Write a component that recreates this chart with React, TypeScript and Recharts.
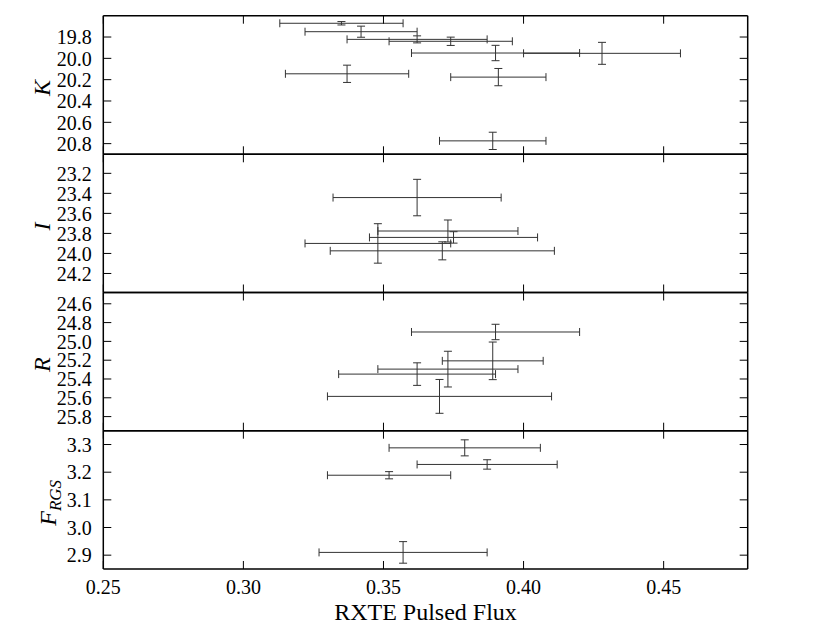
import React from 'react';
import { ScatterChart, Scatter, XAxis, YAxis, ErrorBar } from 'recharts';

// ---- data ----
const X_TICKS = [0.25, 0.3, 0.35, 0.4, 0.45];
const X_DOMAIN = [0.25, 0.48];

const K_DATA = [
  { x: 0.335, ex: 0.022, y: 19.671, ey: 0.016 },
  { x: 0.342, ex: 0.020, y: 19.75, ey: 0.052 },
  { x: 0.362, ex: 0.025, y: 19.822, ey: 0.033 },
  { x: 0.374, ex: 0.022, y: 19.84, ey: 0.039 },
  { x: 0.390, ex: 0.030, y: 19.95, ey: 0.072 },
  { x: 0.428, ex: 0.028, y: 19.953, ey: 0.103 },
  { x: 0.337, ex: 0.022, y: 20.145, ey: 0.081 },
  { x: 0.391, ex: 0.017, y: 20.176, ey: 0.081 },
  { x: 0.389, ex: 0.019, y: 20.774, ey: 0.081 },
];
const K_TICKS = [19.8, 20.0, 20.2, 20.4, 20.6, 20.8];
const K_DOMAIN = [19.6, 20.9];

const I_DATA = [
  { x: 0.362, ex: 0.030, y: 23.442, ey: 0.182 },
  { x: 0.373, ex: 0.025, y: 23.776, ey: 0.11 },
  { x: 0.375, ex: 0.030, y: 23.84, ey: 0.057 },
  { x: 0.348, ex: 0.026, y: 23.90, ey: 0.197 },
  { x: 0.371, ex: 0.040, y: 23.974, ey: 0.09 },
];
const I_TICKS = [23.2, 23.4, 23.6, 23.8, 24.0, 24.2];
const I_DOMAIN = [23.01, 24.39];

const R_DATA = [
  { x: 0.390, ex: 0.030, y: 24.90, ey: 0.082 },
  { x: 0.389, ex: 0.018, y: 25.207, ey: 0.20 },
  { x: 0.373, ex: 0.025, y: 25.295, ey: 0.19 },
  { x: 0.362, ex: 0.028, y: 25.348, ey: 0.12 },
  { x: 0.370, ex: 0.040, y: 25.585, ey: 0.18 },
];
const R_TICKS = [24.6, 24.8, 25.0, 25.2, 25.4, 25.6, 25.8];
const R_DOMAIN = [24.48, 25.95];

const F_DATA = [
  { x: 0.379, ex: 0.027, y: 3.288, ey: 0.029 },
  { x: 0.387, ex: 0.025, y: 3.228, ey: 0.017 },
  { x: 0.352, ex: 0.022, y: 3.189, ey: 0.013 },
  { x: 0.357, ex: 0.030, y: 2.910, ey: 0.039 },
];
const F_TICKS = [2.9, 3.0, 3.1, 3.2, 3.3];
const F_DOMAIN = [2.85, 3.35];

const X_TITLE = 'RXTE Pulsed Flux';

// ---- layout ----
const W = 831;
const H = 626;
const PLOT_LEFT = 103.3;
const PLOT_RIGHT = 747.7;
const PANEL_EDGES = [15.7, 154.3, 292.5, 430.7, 569];
const TICK_LEN = 8;
const Y_LABEL_GAP = 11.6;
const X_LABEL_GAP = 11;
const THIN = 0.001;

const FONT = "'Liberation Serif', 'Times New Roman', serif";
const FRAME = { stroke: '#000', strokeWidth: 1.5 };
const BAR_COLOR = '#333';

const makeYLabel = (main: string, sub?: string, dx = 50) => (props: any) => {
  const vb = props.viewBox || { x: 0, y: 0, width: 0, height: 0 };
  const cx = vb.x + dx;
  const cy = vb.y + vb.height / 2 + 3;
  return (
    <text
      x={cx}
      y={cy}
      transform={`rotate(-90, ${cx}, ${cy})`}
      textAnchor="middle"
      style={{ fontFamily: FONT, fontStyle: 'italic', fontSize: 24 }}
      fill="#000"
    >
      <tspan>{main}</tspan>
      {sub ? (
        <tspan style={{ fontSize: 17 }} dy={5}>
          {sub}
        </tspan>
      ) : null}
    </text>
  );
};

// tick renderers: ticks drawn inward from the frame at the library's tick positions
const leftTick = (digits: number) => (props: any) => {
  const { x, y, payload } = props;
  const edge = x + Y_LABEL_GAP;
  return (
    <g>
      <line x1={edge} x2={edge + TICK_LEN} y1={y} y2={y} stroke="#000" strokeWidth={1} />
      <text x={x} y={y} dy="0.36em" textAnchor="end" style={{ fontFamily: FONT, fontSize: 20 }} fill="#000">
        {Number(payload.value).toFixed(digits)}
      </text>
    </g>
  );
};

const rightTick = (props: any) => {
  const { x, y } = props;
  return <line x1={x} x2={x - TICK_LEN} y1={y} y2={y} stroke="#000" strokeWidth={1} />;
};

const topTick = (props: any) => {
  const { x, y } = props;
  return <line x1={x} x2={x} y1={y} y2={y + TICK_LEN} stroke="#000" strokeWidth={1} />;
};

const bottomTick = (showLabel: boolean) => (props: any) => {
  const { x, y, payload } = props;
  const edge = y - X_LABEL_GAP;
  return (
    <g>
      <line x1={x} x2={x} y1={edge} y2={edge - TICK_LEN} stroke="#000" strokeWidth={1} />
      {showLabel ? (
        <text x={x} y={y} dy="0.71em" textAnchor="middle" style={{ fontFamily: FONT, fontSize: 20 }} fill="#000">
          {Number(payload.value).toFixed(2)}
        </text>
      ) : null}
    </g>
  );
};

const xTitle = (props: any) => {
  const vb = props.viewBox || { x: 0, y: 0, width: 0, height: 0 };
  return (
    <text
      x={vb.x + vb.width / 2}
      y={vb.y + 51}
      textAnchor="middle"
      style={{ fontFamily: FONT, fontSize: 24 }}
      fill="#000"
    >
      {X_TITLE}
    </text>
  );
};

type PanelProps = {
  data: { x: number; ex: number; y: number; ey: number }[];
  domain: number[];
  ticks: number[];
  reversed: boolean;
  index: number;
  showX: boolean;
  label: any;
  digits: number;
};

function Panel({ data, domain, ticks, reversed, index, showX, label, digits }: PanelProps) {
  const top = PANEL_EDGES[index];
  const bottom = PANEL_EDGES[index + 1];
  return (
    <div style={{ position: 'absolute', left: 0, top: 0, width: W, height: H }}>
      <ScatterChart
        width={W}
        height={H}
        margin={{ top, bottom: H - bottom, left: 0, right: W - PLOT_RIGHT }}
      >
        <XAxis
          xAxisId="b"
          type="number"
          dataKey="x"
          orientation="bottom"
          domain={X_DOMAIN}
          ticks={X_TICKS}
          allowDataOverflow
          height={THIN}
          tickSize={0}
          tickMargin={X_LABEL_GAP}
          interval={0}
          axisLine={FRAME}
          tickLine={false}
          tick={bottomTick(showX)}
          label={showX ? { content: xTitle } : undefined}
        />
        <XAxis
          xAxisId="t"
          type="number"
          dataKey="x"
          orientation="top"
          domain={X_DOMAIN}
          ticks={X_TICKS}
          allowDataOverflow
          height={THIN}
          tickSize={0}
          tickMargin={0}
          interval={0}
          axisLine={FRAME}
          tickLine={false}
          tick={topTick}
        />
        <YAxis
          yAxisId="l"
          type="number"
          dataKey="y"
          orientation="left"
          domain={domain}
          ticks={ticks}
          reversed={reversed}
          allowDataOverflow
          width={PLOT_LEFT}
          tickSize={0}
          tickMargin={Y_LABEL_GAP}
          interval={0}
          axisLine={FRAME}
          tickLine={false}
          tick={leftTick(digits)}
          label={{ content: label }}
        />
        <YAxis
          yAxisId="r"
          type="number"
          dataKey="y"
          orientation="right"
          domain={domain}
          ticks={ticks}
          reversed={reversed}
          allowDataOverflow
          width={THIN}
          tickSize={0}
          tickMargin={0}
          interval={0}
          axisLine={FRAME}
          tickLine={false}
          tick={rightTick}
        />
        <Scatter
          xAxisId="b"
          yAxisId="l"
          data={data}
          isAnimationActive={false}
          shape={() => <g />}
        >
          <ErrorBar
            dataKey="ex"
            direction="x"
            width={4}
            stroke={BAR_COLOR}
            strokeWidth={1}
            isAnimationActive={false}
          />
          <ErrorBar
            dataKey="ey"
            direction="y"
            width={4}
            stroke={BAR_COLOR}
            strokeWidth={1}
            isAnimationActive={false}
          />
        </Scatter>
      </ScatterChart>
    </div>
  );
}

export default function App() {
  return (
    <div style={{ position: 'absolute', left: 0, top: 0, width: W, height: H, background: '#fff' }}>
      <Panel data={K_DATA} domain={K_DOMAIN} ticks={K_TICKS} reversed index={0} showX={false} label={makeYLabel('K')} digits={1} />
      <Panel data={I_DATA} domain={I_DOMAIN} ticks={I_TICKS} reversed index={1} showX={false} label={makeYLabel('I')} digits={1} />
      <Panel data={R_DATA} domain={R_DOMAIN} ticks={R_TICKS} reversed index={2} showX={false} label={makeYLabel('R')} digits={1} />
      <Panel data={F_DATA} domain={F_DOMAIN} ticks={F_TICKS} reversed={false} index={3} showX label={makeYLabel('F', 'RGS', 56)} digits={1} />
    </div>
  );
}
